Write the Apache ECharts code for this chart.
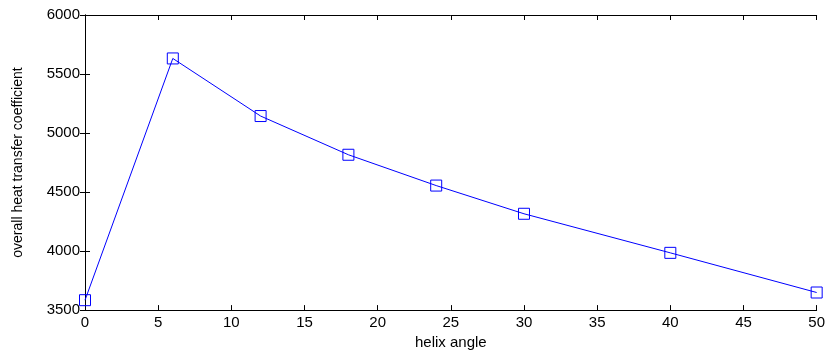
<!DOCTYPE html>
<html>
<head>
<meta charset="utf-8">
<script src="https://cdn.jsdelivr.net/npm/echarts@6/dist/echarts.min.js"></script>
<style>
  html, body { margin: 0; padding: 0; background: #fff; }
  #chart { width: 828px; height: 355px; }
</style>
</head>
<body>
<div id="chart"></div>
<script>
// helix angle vs overall heat transfer coefficient
const helixAngle = [0, 6, 12, 18, 24, 30, 40, 50];
const heatCoeff = [3584, 5632, 5144, 4816, 4555, 4316, 3985, 3649];

const chart = echarts.init(document.getElementById("chart"));
const font = "Liberation Sans, Arial, sans-serif";
const axisLine = { show: true, lineStyle: { color: "#000", width: 1 } };
const tick = { show: true, inside: true, length: 5, lineStyle: { color: "#000" } };

chart.setOption({
  animation: false,
  backgroundColor: "#fff",
  grid: { left: 85, right: 11, top: 15, bottom: 43 },
  xAxis: [
    {
      type: "value",
      min: 0,
      max: 50,
      interval: 5,
      name: "helix angle",
      nameLocation: "middle",
      nameGap: 23,
      nameTextStyle: { fontFamily: font, fontSize: 15, color: "#000" },
      axisLine: axisLine,
      axisTick: tick,
      axisLabel: { fontFamily: font, fontSize: 15, color: "#000", margin: 5 },
      splitLine: { show: false },
    },
    {
      type: "value",
      position: "top",
      min: 0,
      max: 50,
      interval: 5,
      axisLine: axisLine,
      axisTick: tick,
      axisLabel: { show: false },
      splitLine: { show: false },
    },
  ],
  yAxis: [
    {
      type: "value",
      min: 3500,
      max: 6000,
      interval: 500,
      name: "overall heat transfer coefficient",
      nameLocation: "middle",
      nameGap: 60,
      nameTextStyle: { fontFamily: font, fontSize: 14, color: "#000" },
      axisLine: axisLine,
      axisTick: tick,
      axisLabel: {
        fontFamily: font,
        fontSize: 15,
        color: "#000",
        margin: 5,
        formatter: (v) => String(v),
      },
      splitLine: { show: false },
    },
    {
      type: "value",
      position: "right",
      min: 3500,
      max: 6000,
      interval: 500,
      axisLine: axisLine,
      axisTick: tick,
      axisLabel: { show: false },
      splitLine: { show: false },
    },
  ],
  series: [
    {
      type: "line",
      data: helixAngle.map((x, i) => [x, heatCoeff[i]]),
      symbol: "rect",
      symbolSize: 11,
      showAllSymbol: true,
      lineStyle: { color: "#0000ff", width: 1 },
      itemStyle: { color: "rgba(0,0,0,0)", borderColor: "#0000ff", borderWidth: 1 },
    },
  ],
});
</script>
</body>
</html>
